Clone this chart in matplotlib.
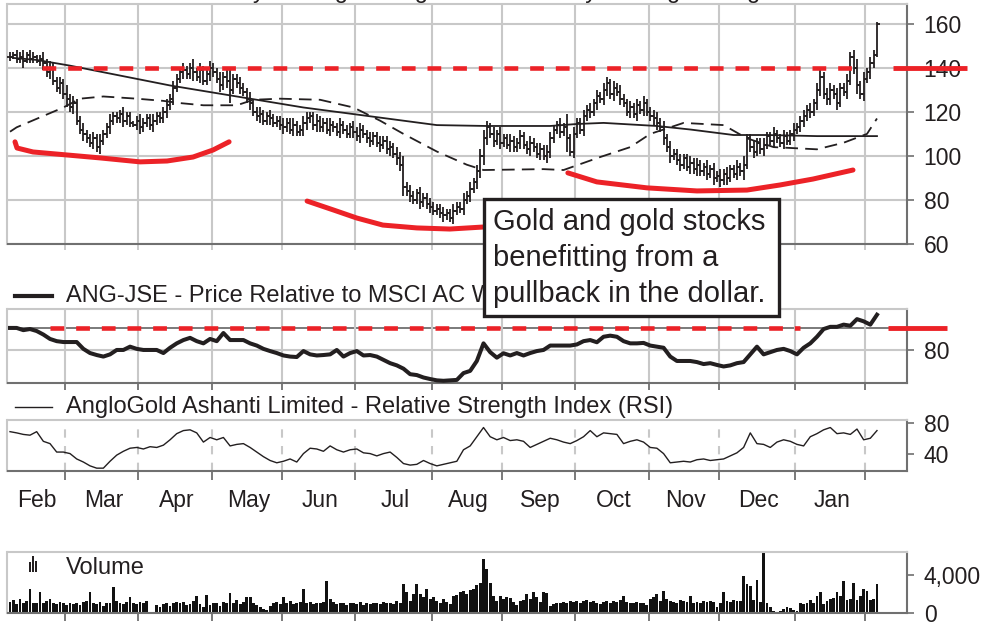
import numpy as np
import matplotlib
matplotlib.use('Agg')
import matplotlib.pyplot as plt
from matplotlib.patches import Rectangle
from matplotlib.lines import Line2D

plt.rcParams['font.family'] = ['Liberation Sans', 'DejaVu Sans']

# ---- data (x axis = trading-day index) ----
months = ['Feb', 'Mar', 'Apr', 'May', 'Jun', 'Jul', 'Aug', 'Sep', 'Oct', 'Nov', 'Dec', 'Jan']
month_start = [17, 39, 61, 82, 104, 127, 148, 170, 192, 213, 236, 257]

close = [145, 146, 144, 145, 143, 146, 144, 145, 143, 144, 142,
         138, 140, 134, 131, 133, 128,
         126, 122, 124, 116, 112, 110, 108, 106, 108, 104, 107, 110,
         113, 116, 118, 117, 119, 116, 118, 115, 114, 116, 113, 115, 117, 114, 116, 118, 117,
         120, 123, 126, 131, 135, 138,
         139, 137, 140, 138, 136, 139, 134, 137, 140, 138, 135, 132, 136, 134, 130, 135, 133, 131, 129,
         126, 124, 120, 118, 119, 116, 118, 117, 115, 116, 114, 113, 115, 112, 114, 111, 112, 115,
         117, 118, 114, 116, 113, 115, 112, 114,
         113, 111, 114, 112, 110, 113, 111, 109, 112, 110, 108,
         107, 109, 106, 105, 107, 103, 104, 101, 99, 96,
         86, 84, 82, 80, 83, 79, 81, 78, 77, 75, 76, 74, 73,
         74, 72, 75, 77, 76, 80, 82, 85, 88,
         93, 100, 108, 113, 110, 107,
         110, 106, 108, 105, 107, 104, 106, 109, 105, 103, 106, 104, 101, 103, 100, 102,
         108, 112, 114, 111, 113, 108, 102, 110, 115, 112,
         118, 121, 120, 124, 127, 126,
         130, 133, 128, 131, 129, 126, 124, 120, 122, 119, 123, 121, 124, 120, 118,
         117, 115, 113, 108, 104, 100, 101,
         98, 96, 99, 95, 97, 94, 96, 93, 95, 92, 94, 90, 91, 89,
         92, 90, 94, 92, 95, 93, 96, 108,
         104, 102, 106, 103, 105, 109, 107, 110, 108, 106, 109, 107, 110, 112, 113, 116,
         118, 121, 120, 124, 130, 136, 128,
         126, 130, 128, 124, 131, 129, 134,
         145, 140, 132, 128, 135, 138, 142, 146, 160]

# extra high/low beyond the open-close span of each bar
wick = [2, 1, 2, 2, 3, 1, 2, 2, 1, 2, 3, 2, 3, 2, 2, 3, 2, 4, 2, 3, 2, 2, 3, 2, 2, 3, 2, 3, 2,
        2, 3, 2, 2, 2, 3, 2, 2, 1, 2, 3, 2, 2, 2, 3, 2, 2, 2, 3, 2, 3, 2, 2, 3, 2, 2, 4, 2, 3,
        2, 2, 3, 2, 2, 3, 2, 3, 6, 2, 2, 3, 2, 2, 3, 2, 2, 3, 2, 2, 3, 2, 2, 2, 3, 2, 2, 3, 2,
        2, 3, 3, 2, 2, 3, 2, 2, 2, 3, 2, 2, 3, 2, 2, 2, 3, 2, 3, 2, 2, 3, 2, 2, 3, 2, 2, 3, 2,
        3, 3, 4, 2, 3, 2, 2, 3, 2, 2, 3, 2, 2, 2, 3, 2, 2, 3, 2, 2, 3, 2, 3, 2, 3, 3, 4, 3, 2,
        3, 2, 3, 2, 2, 3, 2, 2, 3, 2, 2, 3, 2, 2, 3, 2, 3, 3, 2, 2, 3, 2, 6, 2, 3, 2, 2, 3, 2,
        3, 2, 3, 2, 3, 3, 2, 3, 2, 3, 2, 2, 3, 2, 3, 2, 3, 2, 2, 3, 3, 2, 3, 2, 3, 2, 2, 3, 2,
        2, 3, 2, 3, 2, 2, 3, 2, 3, 2, 3, 2, 3, 2, 2, 3, 2, 4, 2, 2, 3, 2, 2, 3, 2, 2, 3, 2, 2,
        3, 2, 2, 3, 2, 2, 3, 2, 3, 2, 3, 3, 2, 3, 3, 2, 3, 2, 2, 3, 2, 3, 4, 2, 3, 2, 3, 2, 1]

ma200_day = [1, 8, 18, 28, 48, 68, 88, 108, 128, 143, 162, 170, 178, 194, 204, 217, 227, 242, 260]
ma200 = [144.5, 143.6, 141, 138, 132, 127, 122, 118, 114, 113.6, 113.6, 114.5, 115, 113.6, 112,
         109.5, 109.5, 109, 109]

ma50_day = [0, 2, 16, 21, 28, 38, 46, 51, 58, 68, 73, 81, 93, 103, 111, 118, 128, 137, 142, 160,
            166, 177, 186, 192, 202, 214, 221, 229, 242, 250, 257, 260]
ma50 = [111, 113, 122, 126, 127, 126, 125, 124, 123, 123, 125.5, 126, 125.5, 122, 116, 110, 102,
        96, 93.6, 94, 93.6, 99.5, 104, 110, 115, 114, 108, 104, 103, 106, 110, 117]

# price relative and RSI, every second trading day
rel = [90, 90, 89, 89.5, 88.6, 87, 85, 84, 83.6, 83.6,
       83.6, 80.5, 78.6, 77.7, 77, 78, 80, 80, 81.5, 80.5,
       80, 80, 80, 78.6, 81, 83, 84.5, 85.5, 84, 83,
       85, 84, 87.7, 84.5, 84.5, 84.5, 83, 82, 80.5, 79.5,
       78.6, 77.5, 77, 76.8, 79.5, 78, 77.5, 77.7, 78, 80,
       77, 78.6, 79.5, 77.5, 77.7, 77, 75.5, 74, 73, 71.5,
       69, 68.6, 67.5, 66.8, 66.2, 66, 66.2, 66.4, 69.5, 70.5,
       75, 83, 79, 76.5, 78.5, 77.5, 78.6, 77.5, 78.6, 79.5,
       80, 82, 82, 82, 82, 82.5, 84, 84.5, 83.5, 86,
       86.5, 86, 84, 83, 83, 83.2, 82, 81.5, 81, 77,
       75, 75, 75, 74.5, 73.6, 74, 73.2, 72.5, 73, 74,
       74.5, 78, 81.5, 78, 79, 80, 80.5, 79.5, 78, 81,
       83, 86, 89.5, 90.5, 90.5, 91.5, 91, 94, 93, 91.5,
       96]

rsi = [68.6, 67, 65, 64, 68.6, 56, 53, 42, 42, 40,
       33, 29, 24, 21, 21, 30, 38, 43, 47, 48,
       46, 49, 48, 51, 58, 66, 70, 71, 67, 55,
       61, 58, 61, 50, 52, 53, 48, 42, 36, 31,
       28, 30, 33, 29, 40, 47, 46, 43, 50, 45,
       42, 45, 46, 41, 40, 37, 40, 42, 35, 27,
       25, 26, 31, 27, 24, 26, 28, 30, 45, 50,
       62, 74, 62, 58, 61, 57, 58, 56, 48, 52,
       56, 60, 58, 55, 53, 57, 62, 70, 62, 67,
       66, 65, 53, 56, 58, 55, 48, 47, 40, 28,
       29, 30, 29, 32, 33, 31, 32, 33, 37, 41,
       48, 67, 53, 52, 48, 55, 58, 56, 52, 50,
       62, 66, 71, 74, 66, 67, 65, 72, 58, 60,
       70]

volume = [1200, 1400, 900, 1500, 1100, 1300, 2500, 1000, 1100, 2200,
          1000, 1300, 1500, 1100, 900, 1200, 1000, 800, 1100, 900,
          1000, 800, 1200, 1300, 2200, 1000, 900, 1200, 700, 1000,
          1100, 2700, 1300, 1000, 900, 1200, 1700, 1100, 900, 1200,
          1000, 1300, 0, 0, 800, 600, 900, 1000, 700, 1100,
          1200, 1000, 1200, 800, 900, 1300, 1800, 900, 600, 1900,
          800, 1000, 1100, 700, 1200, 1000, 2100, 1100, 1400, 900,
          1200, 1700, 1700, 1000, 800, 600, 400, 300, 700, 1100,
          1200, 900, 1700, 1100, 1300, 900, 1000, 1200, 2500, 1000,
          1200, 900, 1100, 1000, 1200, 3400, 1500, 1200, 900, 1000,
          1100, 800, 1000, 1100, 900, 1200, 800, 1000, 900, 1100,
          1000, 900, 1200, 1000, 1100, 900, 1300, 1000, 3000, 2200,
          1300, 2000, 3000, 2000, 1700, 2500, 1500, 1700, 1300, 1000,
          1500, 1200, 900, 1800, 1900, 2200, 2300, 2000, 2400, 2500,
          2900, 3200, 5700, 4600, 3200, 1800, 1300, 1800, 1500, 1700,
          1600, 1200, 800, 1300, 1400, 2000, 1500, 2200, 1700, 1200,
          2200, 2100, 700, 900, 1000, 1100, 1200, 1000, 1300, 1200,
          1300, 1100, 1300, 1400, 1200, 1300, 1100, 900, 1200, 1300,
          1100, 1300, 1200, 1400, 1800, 1200, 1100, 1100, 1200, 1000,
          1100, 800, 1500, 1700, 2000, 1300, 2300, 1500, 1300, 1200,
          1000, 1400, 1300, 1200, 1800, 1100, 1200, 1100, 1300, 1200,
          1300, 1200, 600, 1100, 2200, 1300, 1200, 1400, 1300,
          1300, 3900, 3000, 2800, 1400, 3500, 1200, 6400, 1000, 600,
          200, 0, 200, 400, 600, 500, 300, 200, 1000, 900,
          1000, 1400, 1000, 1800, 2200, 900, 1300, 1500, 1600, 2200,
          1800, 3400, 1400, 1500, 3200, 1400, 1800, 2500, 2300, 1400, 1500, 3100]

# hand-drawn annotations (day, price)
resist_level = 140
resist_span = (9.6, 254)
rel_level = 90
rel_span = (12, 237)
arc1_day = [1.5, 2.1, 6.9, 27, 39, 47.1, 54.9, 60.9, 65.7]
arc1_price = [106.4, 103.6, 101.8, 99.1, 97.3, 97.7, 99.5, 102.7, 106.4]
arc2_day = [89.1, 96.9, 104, 111.8, 122, 131.9, 141.8, 150]
arc2_price = [79.5, 75.5, 71.8, 68.6, 67.3, 66.8, 67.7, 69]
arc3_day = [167.3, 176, 191, 206, 221, 230.9, 240.8, 252.8]
arc3_price = [92.3, 88.2, 85.5, 84.1, 84.5, 86.8, 89.5, 93.6]
note = 'Gold and gold stocks\nbenefitting from a\npullback in the dollar.'

INK = '#231f20'
GRID = '#c8c8c8'
AXIS = '#707070'
RED = '#ec2227'
W, H = 987, 626

fig = plt.figure(figsize=(W / 100, H / 100), dpi=100)


def px_rect(left, top, right, bottom):
    return [left / W, 1 - bottom / H, (right - left) / W, (bottom - top) / H]


def style(ax, tick_color, tick_len):
    ax.set_xlim(-0.75, 269)
    for s in ['top', 'left']:
        ax.spines[s].set_color(GRID)
    for s in ['bottom', 'right']:
        ax.spines[s].set_color(AXIS)
    for s in ax.spines.values():
        s.set_linewidth(1.5)
    ax.yaxis.tick_right()
    ax.tick_params(axis='y', direction='out', length=5, width=1.2, color=AXIS,
                   labelsize=16.5, labelcolor=INK, pad=7)
    ax.set_xticks(np.array(month_start) - 0.5)
    ax.tick_params(axis='x', direction='out', length=tick_len, width=1.3,
                   color=tick_color, labelbottom=False)


ax_p = fig.add_axes(px_rect(7.5, 4, 907, 244))
ax_r = fig.add_axes(px_rect(7.5, 309, 907, 383))
ax_s = fig.add_axes(px_rect(7.5, 420, 907, 471))
ax_v = fig.add_axes(px_rect(7.5, 552, 907, 613))

# ---- price panel ----
style(ax_p, GRID, 4)
days = np.arange(len(close))
c = np.array(close, float)
o = np.r_[c[0], c[:-1]]
hi = np.maximum(o, c) + np.array(wick[:len(c)])
lo = np.minimum(o, c) - np.array(wick[:len(c)])
ax_p.vlines(days, lo, hi, color=INK, lw=1.3, zorder=3)
ax_p.hlines(o, days - 0.9, days, color=INK, lw=1.3, zorder=3)
ax_p.hlines(c, days, days + 0.9, color=INK, lw=1.3, zorder=3)
ax_p.plot(ma200_day, ma200, color=INK, lw=1.3, zorder=3)
ax_p.plot(ma50_day, ma50, color=INK, lw=1.3, dashes=(7, 4), zorder=3)
ax_p.set_ylim(60, 169)
ax_p.set_yticks([60, 80, 100, 120, 140, 160])
ax_p.grid(color=GRID, lw=1.5)
ax_p.set_axisbelow(True)
ax_p.plot(resist_span, [resist_level] * 2, color=RED, lw=3.3, dashes=(3, 2.6), zorder=4)
ax_p.plot([264.8, 287], [resist_level] * 2, color=RED, lw=3.5, clip_on=False,
          solid_capstyle='butt', zorder=4)
for xs, ys in [(arc1_day, arc1_price), (arc2_day, arc2_price), (arc3_day, arc3_price)]:
    ax_p.plot(xs, ys, color=RED, lw=3.6, solid_capstyle='round', solid_joinstyle='round', zorder=4)

# ---- price relative panel ----
style(ax_r, AXIS, 5)
ax_r.grid(axis='x', color=GRID, lw=1.5)
ax_r.axhline(80, color=GRID, lw=1.5, zorder=0)
ax_r.axhline(rel_level, color=AXIS, lw=1.3, zorder=0)
ax_r.set_axisbelow(True)
ax_r.plot(np.arange(len(rel)) * 2, rel, color=INK, lw=2.9, solid_joinstyle='round', zorder=3)
ax_r.plot(rel_span, [rel_level] * 2, color=RED, lw=3.3, dashes=(3, 2.6), zorder=4)
ax_r.plot([263.3, 281], [rel_level] * 2, color=RED, lw=3.5, clip_on=False,
          solid_capstyle='butt', zorder=4)
ax_r.set_ylim(65, 98.6)
ax_r.set_yticks([80])

# ---- RSI panel ----
style(ax_s, AXIS, 6.5)
ax_s.grid(axis='x', color=GRID, lw=1.5, dashes=(4, 4))
ax_s.set_axisbelow(True)
ax_s.plot(np.arange(len(rsi)) * 2, rsi, color=INK, lw=1.0, zorder=3)
ax_s.set_ylim(17.3, 83.8)
ax_s.set_yticks([40, 80])
edges = np.array([-0.75] + month_start, float)
ax_s.set_xticks((edges[:-1] + edges[1:]) / 2, minor=True)
ax_s.set_xticklabels(months, minor=True)
ax_s.tick_params(axis='x', which='minor', length=0, labelbottom=True, labelsize=16.5,
                 labelcolor=INK, pad=13)

# ---- volume panel ----
style(ax_v, AXIS, 6)
ax_v.bar(np.arange(len(volume)), volume, width=0.85, color='#111111', linewidth=0)
ax_v.set_ylim(0, 6420)
ax_v.set_yticks([0, 4000])
ax_v.set_yticklabels(['0', '4,000'])

# ---- legends ----
fs = 17
fig.text(66 / W, 1 + 2 / H, 'ANG-JSE - 50-Day Moving Average', fontsize=fs, color=INK, va='baseline')
fig.text(508 / W, 1 + 2 / H, '200-Day Moving Average', fontsize=fs, color=INK, va='baseline')
fig.add_artist(Line2D([15 / W, 52 / W], [1 - 296 / H] * 2, color=INK, lw=3))
fig.text(66 / W, 1 - 296 / H, 'ANG-JSE - Price Relative to MSCI AC World', fontsize=fs,
         color=INK, va='center')
fig.add_artist(Line2D([15 / W, 52 / W], [1 - 407 / H] * 2, color=INK, lw=1))
fig.text(66 / W, 1 - 407 / H, 'AngloGold Ashanti Limited - Relative Strength Index (RSI)',
         fontsize=fs, color=INK, va='center')
for bx, bt in [(29, 562), (32, 556), (35, 561)]:
    fig.add_artist(Rectangle((bx / W, 1 - 572 / H), 2.4 / W, (572 - bt) / H,
                             transform=fig.transFigure, color=INK, lw=0))
fig.text(66 / W, 1 - 568 / H, 'Volume', fontsize=fs, color=INK, va='center')

# ---- note box ----
fig.add_artist(Rectangle((484 / W, 1 - 316 / H), 295 / W, 117 / H, transform=fig.transFigure,
                         facecolor='white', edgecolor=INK, lw=2.4, zorder=10))
fig.text(493 / W, 1 - 208 / H, note, fontsize=21, color=INK, va='top', ha='left',
         linespacing=1.36, zorder=11)

fig.savefig('out.png', dpi=100)
